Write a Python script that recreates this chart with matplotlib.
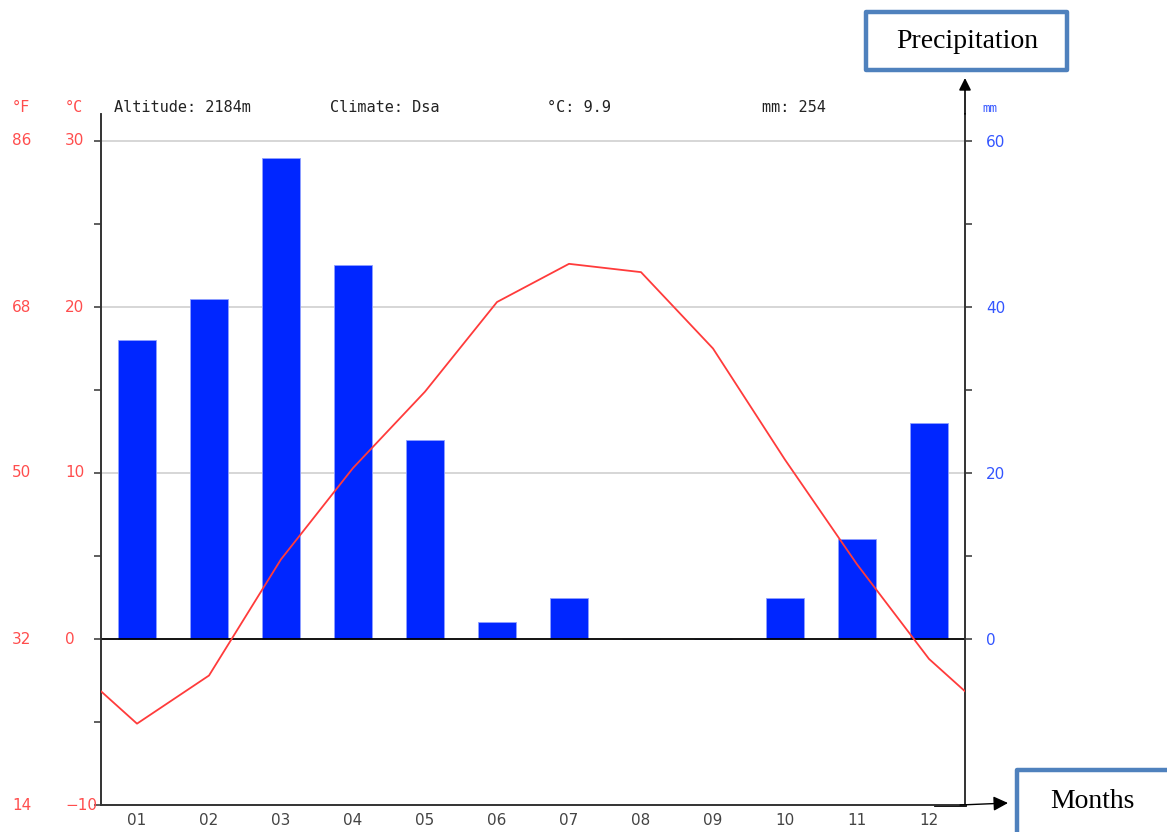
import matplotlib
matplotlib.use("Agg")
import matplotlib.pyplot as plt
import matplotlib.transforms as mtransforms
from matplotlib.patches import Rectangle

# ---- data ----
months = ["01", "02", "03", "04", "05", "06", "07", "08", "09", "10", "11", "12"]
temperature_c = [-5.1, -2.2, 4.8, 10.3, 14.9, 20.3, 22.6, 22.1, 17.5, 10.8, 4.5, -1.2]
precipitation_mm = [36, 41, 58, 45, 24, 2, 5, 0, 0, 5, 12, 26]
c_ticks = [-10, 0, 10, 20, 30]
f_labels = ["14", "32", "50", "68", "86"]
mm_ticks = [0, 20, 40, 60]
info_texts = ["Altitude: 2184m", "Climate: Dsa", "°C: 9.9", "mm: 254"]

W, H = 1167, 832
fig = plt.figure(figsize=(W / 100, H / 100), dpi=100)
fig.patch.set_facecolor("white")

def fx(px):
    return px / W

def fy(py):
    return 1 - py / H

ax_left, ax_right, ax_top, ax_bottom = 101, 965, 114, 805
ax2 = fig.add_axes([fx(ax_left), fy(ax_bottom), (ax_right - ax_left) / W, (ax_bottom - ax_top) / H])
ax = ax2.twinx()
ax.set_zorder(3)
ax2.set_zorder(2)
ax.patch.set_visible(False)

c_top = -10 + (ax_bottom - ax_top) / ((639 - 141) / 30.0)
ax.set_ylim(-10, c_top)
ax2.set_ylim(-20, 2 * c_top)
ax.set_xlim(0, 12)
ax2.set_xlim(0, 12)

red = "#ff4d4d"
blue = "#3355ff"
dark = "#333333"

# grid lines (behind bars) in mm scale
for v in [20, 40, 60]:
    ax2.axhline(v, color="#cccccc", lw=1.1, zorder=0)

centers = [i + 0.5 for i in range(len(months))]
ax2.bar(centers, precipitation_mm, width=0.52, color="#0026ff",
        edgecolor="#8fa0ff", linewidth=0.6, zorder=2)
ax2.axhline(0, color="black", lw=1.3, zorder=3)

# temperature line with wrap-around to the edges
xs = [centers[0] - 1] + centers + [centers[-1] + 1]
ys = [temperature_c[-1]] + temperature_c + [temperature_c[0]]
ax.plot(xs, ys, color="#ff3b3b", lw=1.3, zorder=4, clip_on=True)

# spines
for a in (ax, ax2):
    a.spines["top"].set_visible(False)
    for s in ("left", "right", "bottom"):
        a.spines[s].set_color(dark)
        a.spines[s].set_linewidth(1.2)

ax.yaxis.tick_left()
ax.yaxis.set_label_position("left")
ax.set_yticks(range(-10, 31, 5))
ax.set_yticklabels([])
ax.tick_params(axis="y", direction="out", length=5, width=1.1, color=dark, left=True, right=False)

# right axis ticks in mm
ax2.yaxis.tick_right()
ax2.set_yticks(range(0, 61, 10))
ax2.set_yticklabels([str(v) if v in mm_ticks else "" for v in range(0, 61, 10)],
                    color=blue, fontsize=11)
ax2.tick_params(axis="y", direction="out", length=5, width=1.1, color=dark, pad=10,
                left=False, right=True)

# x ticks
ax2.set_xticks(range(0, 13))
ax2.set_xticklabels([])
ax2.set_xticks(centers, minor=True)
ax2.set_xticklabels(months, minor=True, color="#444444", fontsize=11)
ax2.tick_params(axis="x", which="major", direction="out", length=5, width=1.1, color=dark)
ax2.tick_params(axis="x", which="minor", length=0, pad=6)
ax.set_xticks([])

# left labels (°F and °C)
trans = mtransforms.blended_transform_factory(fig.transFigure, ax.transData)
for c, f in zip(c_ticks, f_labels):
    ax.text(fx(12), c, f, transform=trans, ha="left", va="center", color=red,
            fontsize=11, clip_on=False)
    ax.text(fx(65), c, str(c).replace("-", "\u2212"), transform=trans, ha="left",
            va="center", color=red, fontsize=11, clip_on=False)

fig.text(fx(12), fy(108), "°F", color=red, fontsize=11, ha="left", va="center",
         family="DejaVu Sans Mono")
fig.text(fx(65), fy(108), "°C", color=red, fontsize=11, ha="left", va="center",
         family="DejaVu Sans Mono")
fig.text(fx(982), fy(108), "mm", color=blue, fontsize=9, ha="left", va="center",
         family="DejaVu Sans Mono")

for txt, px in zip(info_texts, [114, 330, 547, 762]):
    fig.text(fx(px), fy(108), txt, color="#222222", fontsize=11, ha="left",
             va="center", family="DejaVu Sans Mono")

# arrows
ax.annotate("", xy=(fx(965), fy(78)), xycoords="figure fraction",
            xytext=(fx(965), fy(ax_top)), textcoords="figure fraction",
            arrowprops=dict(arrowstyle="-|>", color="black", lw=1.2,
                            mutation_scale=18, shrinkA=0, shrinkB=0))
ax.annotate("", xy=(fx(1008), fy(803)), xycoords="figure fraction",
            xytext=(fx(960), fy(805)), textcoords="figure fraction",
            arrowprops=dict(arrowstyle="-|>", color="black", lw=1.0,
                            mutation_scale=22, shrinkA=0, shrinkB=0))
fig.add_artist(plt.Line2D([fx(935), fx(965)], [fy(805), fy(805)], color="black", lw=2))

# boxes
box_color = "#4f81bd"
fig.add_artist(Rectangle((fx(866), fy(70)), (1067 - 866) / W, (70 - 12) / H,
                         transform=fig.transFigure, fill=False, edgecolor=box_color,
                         lw=3.2, joinstyle="round"))
fig.text(fx(967), fy(42), "Precipitation", fontsize=20, family="Liberation Serif",
         ha="center", va="center", color="black")
fig.add_artist(Rectangle((fx(1017), fy(840)), (1200 - 1017) / W, (840 - 770) / H,
                         transform=fig.transFigure, fill=False, edgecolor=box_color,
                         lw=3.2, joinstyle="round", clip_on=False))
fig.text(fx(1092), fy(801), "Months", fontsize=20, family="Liberation Serif",
         ha="center", va="center", color="black")

fig.savefig("out.png", dpi=100, facecolor="white")
